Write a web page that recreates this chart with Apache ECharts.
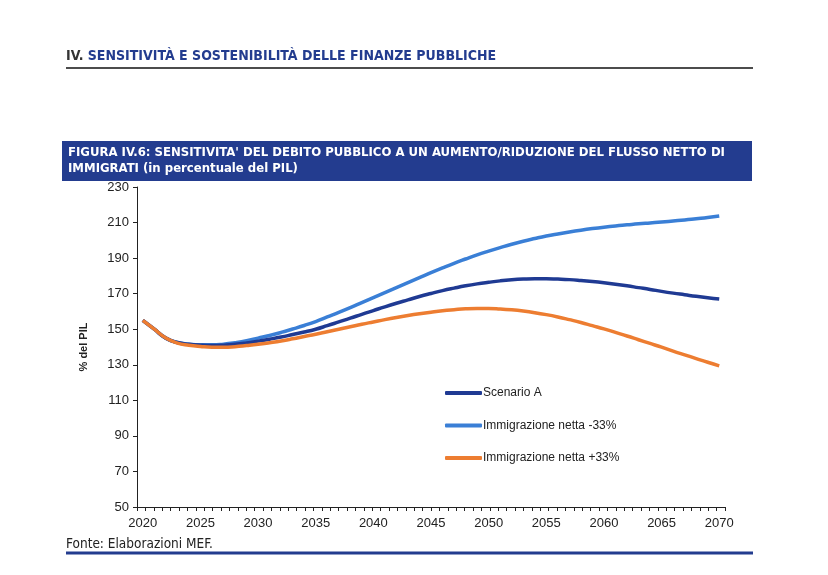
<!DOCTYPE html>
<html>
<head>
<meta charset="utf-8">
<script src="https://cdn.jsdelivr.net/npm/echarts@6/dist/echarts.min.js"></script>
<style>
	html, body { margin: 0; padding: 0; background: #fff; }
	#chart { width: 828px; height: 575px; }
</style>
</head>
<body>
<div id="chart"></div>
<script>
/**
 * Dati del grafico
 */
var anni = [];
for (var a = 2020; a <= 2070; a++) { anni.push(String(a)); }

var scenarioA = [155, 150, 145, 142.5, 141.5, 141, 140.8, 141, 141.5, 142.3,
	143.3, 144.4, 145.6, 147, 148.4, 150, 152, 154.1, 156.2, 158.4,
	160.5, 162.6, 164.6, 166.5, 168.4, 170.1, 171.7, 173.1, 174.4, 175.5,
	176.4, 177.2, 177.8, 178.2, 178.4, 178.4, 178.2, 177.9, 177.4, 176.8,
	176.1, 175.3, 174.4, 173.4, 172.4, 171.3, 170.3, 169.4, 168.5, 167.7, 167];

var immMeno33 = [155, 150, 145, 142.5, 141.6, 141.2, 141.2, 141.6, 142.4, 143.5,
	145, 146.5, 148.2, 150.1, 152.1, 154.3, 156.9, 159.5, 162.2, 165,
	167.8, 170.6, 173.4, 176.2, 179, 181.8, 184.5, 187.1, 189.5, 191.8,
	193.9, 195.9, 197.8, 199.5, 201, 202.4, 203.6, 204.7, 205.7, 206.6,
	207.4, 208.1, 208.7, 209.3, 209.8, 210.3, 210.9, 211.5, 212.2, 212.9, 213.7];

var immPiu33 = [155, 150, 145, 142.2, 141, 140.3, 139.9, 139.9, 140.2, 140.8,
	141.5, 142.4, 143.4, 144.6, 145.9, 147.2, 148.6, 150, 151.4, 152.8,
	154.1, 155.4, 156.6, 157.7, 158.7, 159.6, 160.4, 161, 161.5, 161.7,
	161.7, 161.4, 160.9, 160.2, 159.3, 158.2, 156.9, 155.4, 153.8, 152,
	150.2, 148.2, 146.2, 144.1, 142, 139.9, 137.7, 135.6, 133.5, 131.4, 129.4];

var nomiSerie = ['Scenario A', 'Immigrazione netta -33%', 'Immigrazione netta +33%'];
var colori = ['#1f3a93', '#3a7fd6', '#ed7d31'];

var FONT = '"Liberation Sans", Arial, sans-serif';
var FONT_COND = '"Liberation Sans Narrow", "DejaVu Sans Condensed", sans-serif';
var BLU = '#233c8f';

var myChart = echarts.init(document.getElementById('chart'));

var option = {
	animation: false,
	backgroundColor: '#fff',
	color: colori,
	grid: { left: 137, right: 103, top: 187, bottom: 68, containLabel: false },
	legend: {
		orient: 'vertical',
		left: 440,
		top: 382,
		itemGap: 20.5,
		itemWidth: 37,
		itemHeight: 4,
		icon: 'roundRect',
		textStyle: { fontFamily: FONT, fontSize: 12, color: '#222', padding: [0, 0, 0, -4] },
		data: nomiSerie
	},
	xAxis: [{
		type: 'category',
		data: anni,
		boundaryGap: true,
		axisLine: { lineStyle: { color: '#222', width: 1 } },
		axisTick: { show: false },
		axisLabel: {
			interval: 4,
			margin: 10,
			fontFamily: FONT, fontSize: 13, color: '#222'
		}
	}, {
		// solo per le tacche fini dell'asse
		type: 'value',
		position: 'bottom',
		min: 0, max: 70, interval: 1,
		axisLine: { show: false },
		axisTick: { show: true, length: 4, lineStyle: { color: '#222' } },
		axisLabel: { show: false },
		splitLine: { show: false }
	}],
	yAxis: {
		type: 'value',
		min: 50, max: 230, interval: 20,
		name: '% del PIL',
		nameLocation: 'middle',
		nameRotate: 90,
		nameGap: 48,
		nameTextStyle: { fontFamily: FONT, fontSize: 11, fontWeight: 'bold', color: '#222' },
		axisLine: { show: true, lineStyle: { color: '#222', width: 1 } },
		axisTick: { show: true, length: 4, lineStyle: { color: '#222' } },
		axisLabel: { margin: 8, fontFamily: FONT, fontSize: 13, color: '#222' },
		splitLine: { show: false }
	},
	series: [
		{ name: nomiSerie[0], type: 'line', data: scenarioA, smooth: true, showSymbol: false, z: 3,
		  lineStyle: { width: 3.5, color: colori[0] } },
		{ name: nomiSerie[1], type: 'line', data: immMeno33, smooth: true, showSymbol: false, z: 2,
		  lineStyle: { width: 3.5, color: colori[1] } },
		{ name: nomiSerie[2], type: 'line', data: immPiu33, smooth: true, showSymbol: false, z: 4,
		  lineStyle: { width: 3.5, color: colori[2] } }
	],
	graphic: [
		// intestazione di pagina
		{ type: 'text', left: 66, top: 49, style: {
			rich: {
				n: { fill: '#333', font: 'bold 14px ' + FONT_COND },
				t: { fill: BLU, font: 'bold 14px ' + FONT_COND }
			},
			text: '{n|IV. }{t|SENSITIVITÀ E SOSTENIBILITÀ DELLE FINANZE PUBBLICHE}'
		} },
		{ type: 'line', shape: { x1: 66, y1: 68, x2: 753, y2: 68 }, style: { stroke: '#111', lineWidth: 1.5 } },
		// riquadro del titolo
		{ type: 'rect', shape: { x: 62, y: 141, width: 690, height: 40 }, style: { fill: BLU } },
		{ type: 'text', left: 68, top: 145, style: {
			fill: '#fff', font: 'bold 13px ' + FONT_COND, lineHeight: 16,
			text: 'FIGURA IV.6: SENSITIVITA\' DEL DEBITO PUBBLICO A UN AUMENTO/RIDUZIONE DEL FLUSSO NETTO DI\nIMMIGRATI (in percentuale del PIL)'
		} },
		// fonte
		{ type: 'text', left: 66, top: 537, style: {
			fill: '#222', font: '13.5px ' + FONT_COND, text: 'Fonte: Elaborazioni MEF.'
		} },
		{ type: 'line', shape: { x1: 66, y1: 553, x2: 753, y2: 553 }, style: { stroke: BLU, lineWidth: 3 } }
	]
};

myChart.setOption(option);
</script>
</body>
</html>
